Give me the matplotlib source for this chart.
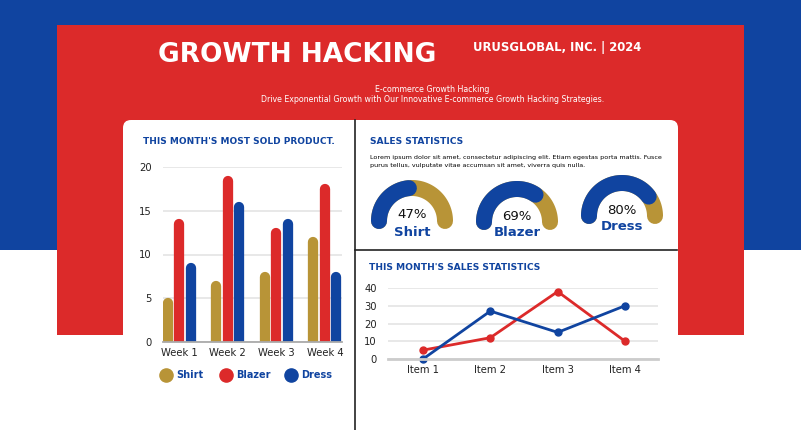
import numpy as np
import matplotlib
matplotlib.use("Agg")
import matplotlib.pyplot as plt
from matplotlib.patches import Rectangle, FancyBboxPatch

BLUE = "#1044a0"
RED = "#dc2a2a"
GOLD = "#b89437"

# Bar chart data
weeks = ["Week 1", "Week 2", "Week 3", "Week 4"]
shirt = [5, 7, 8, 12]
blazer = [14, 19, 13, 18]
dress = [9, 16, 14, 8]

# Gauges
gauge_names = ["Shirt", "Blazer", "Dress"]
gauge_pct = [47, 69, 80]

# Line chart data
items = ["Item 1", "Item 2", "Item 3", "Item 4"]
line_red = [5, 12, 38, 10]
line_blue = [0, 27, 15, 30]

W, H = 801, 430
fig = plt.figure(figsize=(W / 100, H / 100), dpi=100)
plt.rcParams['font.family'] = ['DejaVu Sans']


def fax(l, t, r, b):
    return fig.add_axes([l / W, 1 - b / H, (r - l) / W, (b - t) / H])


# background in pixel coordinates
bg = fig.add_axes([0, 0, 1, 1])
bg.set_xlim(0, W)
bg.set_ylim(H, 0)
bg.axis("off")
bg.add_patch(Rectangle((0, 0), W, 250, color=BLUE, lw=0))
bg.add_patch(Rectangle((57, 25), 687, 310, color=RED, lw=0))
bg.add_patch(FancyBboxPatch((123, 120), 555, 400, boxstyle="round,pad=0,rounding_size=8",
                            color="white", lw=0))
bg.plot([355, 355], [120, 430], color="#222222", lw=1.2)
bg.plot([355, 677], [250, 250], color="#222222", lw=1.2)

# header
bg.text(158, 55, "GROWTH HACKING", color="white", fontsize=19, fontweight="heavy",
        va="center", ha="left")
bg.text(473, 48, "URUSGLOBAL, INC. | 2024", color="white", fontsize=8.4, fontweight="bold",
        va="center", ha="left")
bg.text(432, 90, "E-commerce Growth Hacking", color="white", fontsize=5.7, ha="center", va="center")
bg.text(433, 100, "Drive Exponential Growth with Our Innovative E-commerce Growth Hacking Strategies.",
        color="white", fontsize=5.7, ha="center", va="center")

# section titles
bg.text(143, 142, "THIS MONTH'S MOST SOLD PRODUCT.", color=BLUE, fontsize=6.5, fontweight="bold",
        va="center")
bg.text(370, 142, "SALES STATISTICS", color=BLUE, fontsize=6.6, fontweight="bold", va="center")
bg.text(370, 157, "Lorem ipsum dolor sit amet, consectetur adipiscing elit. Etiam egestas porta mattis. Fusce",
        color="black", fontsize=4.6, va="center")
bg.text(370, 165, "purus tellus, vulputate vitae accumsan sit amet, viverra quis nulla.",
        color="black", fontsize=4.6, va="center")
bg.text(369, 268, "THIS MONTH'S SALES STATISTICS", color=BLUE, fontsize=6.6, fontweight="bold",
        va="center")

# gauges
centers = [(412, 221), (517, 222), (622, 216)]
r_mid = 33
lw_pt = 16 * 0.72
for (cx, cy), p, name in zip(centers, gauge_pct, gauge_names):
    th = np.linspace(np.pi, 0, 100)
    bg.plot(cx + r_mid * np.cos(th), cy - r_mid * np.sin(th), color=GOLD, lw=lw_pt,
            solid_capstyle="round")
    th2 = np.linspace(np.pi, np.pi - np.pi * p / 100, 100)
    bg.plot(cx + r_mid * np.cos(th2), cy - r_mid * np.sin(th2), color=BLUE, lw=lw_pt,
            solid_capstyle="round")
    bg.text(cx, cy - 6, f"{p}%", fontsize=9.5, ha="center", va="center", color="#111111")
    bg.text(cx, cy + 11, name, fontsize=9.5, fontweight="bold", ha="center", va="center",
            color=BLUE)

# bar chart
ax = fax(163, 167, 342, 342)
x = np.arange(len(weeks))
off = 0.236
cap = 5 * 20 / 175
for vals, col, d in [(shirt, GOLD, -1), (blazer, RED, 0), (dress, BLUE, 1)]:
    lc = ax.vlines(x + d * off, -2, np.array(vals) - cap, color=col, lw=7.4)
    lc.set_capstyle("round")
ax.set_xlim(-0.33, 3.35)
ax.set_ylim(0, 20)
ax.set_yticks([0, 5, 10, 15, 20])
ax.set_xticks(x)
ax.set_xticklabels(weeks)
ax.grid(axis="y", color="#e6e6e6", lw=1.3)
ax.set_axisbelow(True)
for s in ["top", "right", "left"]:
    ax.spines[s].set_visible(False)
ax.spines["bottom"].set_color("#aaaaaa")
ax.spines["bottom"].set_linewidth(1.3)
ax.tick_params(length=0, labelsize=7.2, pad=4, colors="#222222")
ax.tick_params(axis="y", pad=8)
ax.patch.set_alpha(0)

# legend
for lx, name, col in [(166, "Shirt", GOLD), (226, "Blazer", RED), (291, "Dress", BLUE)]:
    bg.scatter([lx], [375], s=90, color=col, zorder=5)
    bg.text(lx + 10, 375, name, color=BLUE, fontsize=7, fontweight="bold", va="center")

# line chart
ax2 = fax(388, 288, 658, 359)
xi = np.arange(len(items))
ax2.plot(xi, line_red, color=RED, lw=2, marker="o", ms=5, clip_on=False)
ax2.plot(xi, line_blue, color=BLUE, lw=2, marker="o", ms=5, clip_on=False)
ax2.set_xlim(-0.52, 3.49)
ax2.set_ylim(0, 40)
ax2.set_yticks([0, 10, 20, 30, 40])
ax2.set_xticks(xi)
ax2.set_xticklabels(items)
ax2.grid(axis="y", color="#e6e6e6", lw=1.3)
ax2.set_axisbelow(True)
for s in ["top", "right", "left"]:
    ax2.spines[s].set_visible(False)
ax2.spines["bottom"].set_color("#cccccc")
ax2.spines["bottom"].set_linewidth(2)
ax2.tick_params(length=0, labelsize=7.2, pad=4, colors="#222222")
ax2.tick_params(axis="y", pad=8)
ax2.patch.set_alpha(0)

fig.savefig("out.png", dpi=100)
